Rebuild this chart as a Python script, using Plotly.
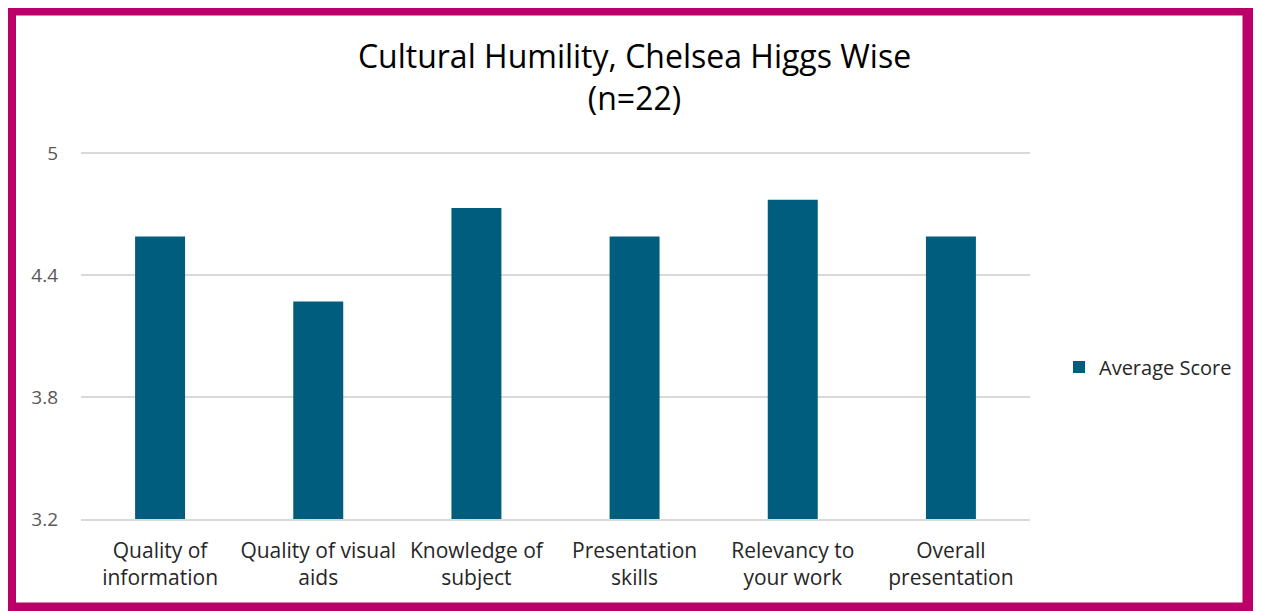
import plotly.graph_objects as go

categories = ["Quality of<br>information", "Quality of visual<br>aids", "Knowledge of<br>subject",
              "Presentation<br>skills", "Relevancy to<br>your work", "Overall<br>presentation"]
average_score = [4.59, 4.27, 4.73, 4.59, 4.77, 4.59]
y_ticks = [3.2, 3.8, 4.4, 5]
y_tick_labels = ["3.2", "3.8", "4.4", "5"]

OFF = 8  # page body margin
W, H = 1261 - OFF, 611 - OFF
YMIN, YMAX = 3.2, 5.01
# plot area in reference pixel coordinates
PL, PR, PB = 81, 1030, 519
UNIT = (519 - 153) / 1.8
PT = PB - (YMAX - YMIN) * UNIT
L, T = PL - OFF, PT - OFF
R, B = W - (PR - OFF), H - (PB - OFF)
pw, ph = PR - PL, PB - PT

def px(p):
    return (p - PL) / pw

def py(p):
    return (PB - p) / ph

FONT = "Open Sans"

fig = go.Figure()
fig.add_trace(go.Bar(
    x=categories, y=average_score, name="Average Score",
    marker=dict(color="#005D7D", line=dict(width=0)),
))

fig.update_layout(
    width=W, height=H,
    margin=dict(l=L, r=R, t=T, b=B),
    paper_bgcolor="white", plot_bgcolor="white",
    font=dict(family=FONT, color="#404040"),
    title=dict(text="Cultural Humility, Chelsea Higgs Wise<br>(n=22)",
               x=0.5, xanchor="center", y=1 - (68 - OFF) / H, yanchor="middle",
               font=dict(family=FONT, size=32, color="#000000")),
    bargap=0.684,
    showlegend=True,
    legend=dict(x=px(1059), y=py(367), xanchor="left", yanchor="middle",
                font=dict(family=FONT, size=20, color="#262626"),
                bgcolor="rgba(0,0,0,0)"),
    xaxis=dict(showgrid=False, showline=True, linecolor="#d9d9d9", linewidth=1.5,
               tickfont=dict(family=FONT, size=21, color="#262626"),
               ticks="", ticklabelstandoff=12, automargin=False),
    yaxis=dict(range=[YMIN, YMAX], tickvals=y_ticks, ticktext=y_tick_labels,
               showgrid=True, gridcolor="#d9d9d9", gridwidth=1.5,
               zeroline=False, ticks="", ticklabelstandoff=22,
               tickfont=dict(family=FONT, size=19, color="#595959"),
               automargin=False),
    shapes=[dict(type="rect", xref="paper", yref="paper",
                 x0=px(10.5), x1=px(1248), y0=py(608), y1=py(10),
                 line=dict(color="#BA0068", width=11), fillcolor="rgba(0,0,0,0)")],
)

fig.write_html("out.html")
